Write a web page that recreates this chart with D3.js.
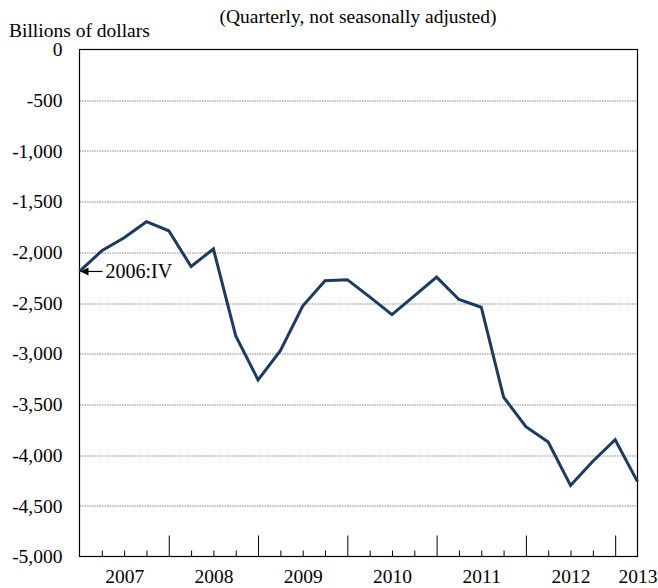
<!DOCTYPE html>
<html>
<head>
<meta charset="utf-8">
<script src="https://cdn.jsdelivr.net/npm/d3@7"></script>
<style>
  body { margin: 0; background: #fff; }
  text { font-family: "Liberation Serif", "DejaVu Serif", serif; }
</style>
</head>
<body>
<div id="chart"></div>
<script>
// quarters from 2006:IV to 2013:I
var quarters = ["2006:IV",
  "2007:I","2007:II","2007:III","2007:IV",
  "2008:I","2008:II","2008:III","2008:IV",
  "2009:I","2009:II","2009:III","2009:IV",
  "2010:I","2010:II","2010:III","2010:IV",
  "2011:I","2011:II","2011:III","2011:IV",
  "2012:I","2012:II","2012:III","2012:IV",
  "2013:I"];

// net position, billions of dollars
var values = [-2189, -1985, -1857, -1698, -1788,
  -2140, -1967, -2825, -3258,
  -2970, -2530, -2280, -2270,
  -2440, -2615, -2430, -2245,
  -2465, -2542, -3428, -3720,
  -3872, -4300, -4060, -3848,
  -4262];

var yTicks = [0, -500, -1000, -1500, -2000, -2500, -3000, -3500, -4000, -4500, -5000];
var yearLabels = ["2007", "2008", "2009", "2010", "2011", "2012", "2013"];
var yearLabelIdx = [2, 6, 10, 14, 18, 22, 25];
var majorIdx = [4, 8, 12, 16, 20, 24];

var margin = {top: 49.5, right: 20, bottom: 31, left: 79.5},
    width = 637.5 - margin.left,
    height = 556.5 - margin.top;

var svg = d3.select("#chart")
    .append("svg")
    .attr("width", 658)
    .attr("height", 588);

// header
svg.append("text")
    .attr("x", 358)
    .attr("y", 23)
    .attr("text-anchor", "middle")
    .style("font-size", "19.5px")
    .text("(Quarterly, not seasonally adjusted)");

svg.append("text")
    .attr("x", 9)
    .attr("y", 37)
    .style("font-size", "19.5px")
    .text("Billions of dollars");

var g = svg.append("g")
    .attr("transform", "translate(" + margin.left + "," + margin.top + ")");

var x = d3.scaleLinear()
    .domain([0, quarters.length - 1])
    .range([0, width]);

var y = d3.scaleLinear()
    .domain([-5000, 0])
    .range([height, 0]);

var fmt = function (d) { return d3.format(",")(d).replace("\u2212", "-"); };

// gridlines
g.append("g")
    .selectAll("line")
    .data(yTicks.filter(function (d) { return d !== 0 && d !== -5000; }))
    .enter()
    .append("line")
    .attr("x1", 0)
    .attr("x2", width)
    .attr("y1", function (d) { return Math.round(y(d)) + 0.5; })
    .attr("y2", function (d) { return Math.round(y(d)) + 0.5; })
    .attr("stroke", "#888")
    .attr("stroke-width", 1)
    .attr("stroke-dasharray", "1.5,1");

// y axis labels
var yAxis = g.append("g")
    .call(d3.axisLeft(y).tickValues(yTicks).tickFormat(fmt).tickSize(0).tickPadding(17));
yAxis.select(".domain").remove();
yAxis.selectAll("text")
    .style("font-size", "19.5px")
    .attr("fill", "#000");

// minor quarter ticks
var minorAxis = g.append("g")
    .attr("transform", "translate(0," + height + ")")
    .call(d3.axisBottom(x).tickValues(d3.range(1, quarters.length - 1).filter(function (i) { return majorIdx.indexOf(i) < 0; }))
        .tickSize(-6).tickFormat(""));
minorAxis.select(".domain").remove();
minorAxis.selectAll("line").attr("stroke", "#000");

// major year ticks
var majorAxis = g.append("g")
    .attr("transform", "translate(0," + height + ")")
    .call(d3.axisBottom(x).tickValues(majorIdx).tickSize(-21).tickFormat(""));
majorAxis.select(".domain").remove();
majorAxis.selectAll("line").attr("stroke", "#000");

// year labels
var yearAxis = g.append("g")
    .attr("transform", "translate(0," + height + ")")
    .call(d3.axisBottom(x).tickValues(yearLabelIdx)
        .tickFormat(function (d, i) { return yearLabels[i]; })
        .tickSize(0).tickPadding(13));
yearAxis.select(".domain").remove();
yearAxis.selectAll("text")
    .style("font-size", "19.5px")
    .attr("fill", "#000");

// frame
g.append("rect")
    .attr("x", 0)
    .attr("y", 0)
    .attr("width", width)
    .attr("height", height)
    .attr("fill", "none")
    .attr("stroke", "#000")
    .attr("stroke-width", 1.2);

// the line
var line = d3.line()
    .x(function (d, i) { return x(i); })
    .y(function (d) { return y(d); });

g.append("path")
    .datum(values)
    .attr("d", line)
    .attr("fill", "none")
    .attr("stroke", "#1c3a62")
    .attr("stroke-width", 3)
    .attr("stroke-linejoin", "miter");

// start annotation
var ay = y(values[0]);
g.append("line")
    .attr("x1", x(0) + 23)
    .attr("x2", x(0) + 6)
    .attr("y1", ay)
    .attr("y2", ay)
    .attr("stroke", "#000")
    .attr("stroke-width", 1.2);
g.append("path")
    .attr("d", "M" + (x(0) + 1) + "," + ay + "L" + (x(0) + 9) + "," + (ay - 4) + "L" + (x(0) + 9) + "," + (ay + 4) + "Z")
    .attr("fill", "#000");
g.append("text")
    .attr("x", x(0) + 26)
    .attr("y", ay + 7)
    .style("font-size", "20px")
    .text(quarters[0]);
</script>
</body>
</html>
